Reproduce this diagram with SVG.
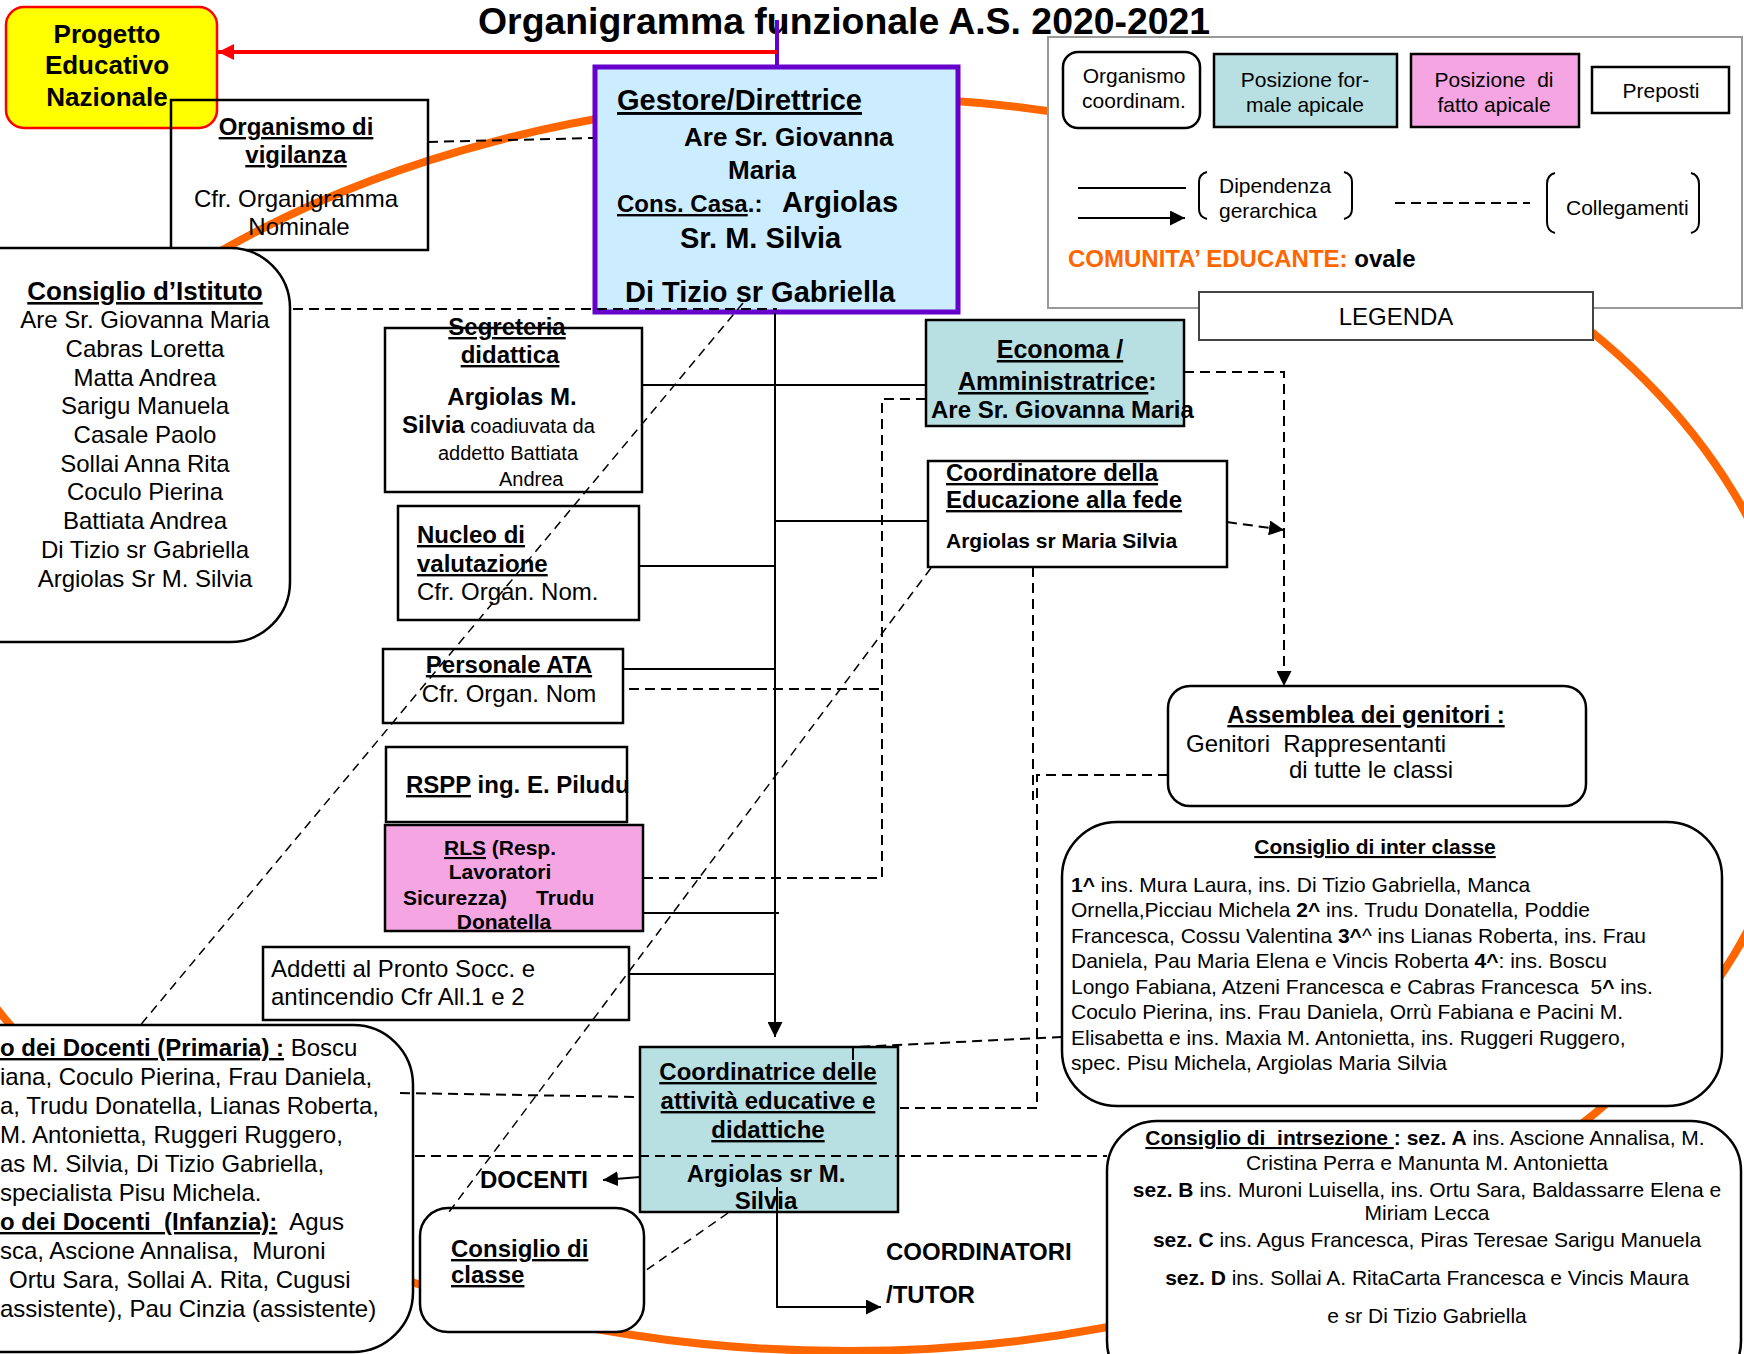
<svg xmlns="http://www.w3.org/2000/svg" width="1744" height="1354" viewBox="0 0 1744 1354" xml:space="preserve">
<defs>
<style>
text{font-family:"Liberation Sans",Arial,sans-serif;fill:#000;white-space:pre}
.b{font-weight:bold}
.u{text-decoration:underline}
.box{fill:#fff;stroke:#000;stroke-width:2.5}
.ln{stroke:#000;stroke-width:2;fill:none}
.dl{stroke:#000;stroke-width:2;fill:none;stroke-dasharray:10 6}
.dg{stroke:#000;stroke-width:1.5;fill:none;stroke-dasharray:9 6}
.teal{fill:#B8DFE1;stroke:#000;stroke-width:2.5}
.pink{fill:#F5A6E2;stroke:#000;stroke-width:2.5}
.lg{font-size:21px}
</style>
<marker id="ah" viewBox="0 0 10 10" refX="10" refY="5" markerWidth="15" markerHeight="15" markerUnits="userSpaceOnUse" orient="auto"><path d="M0,0L10,5L0,10z" fill="#000"/></marker>
<marker id="ahr" viewBox="0 0 10 10" refX="10" refY="5" markerWidth="16" markerHeight="16" markerUnits="userSpaceOnUse" orient="auto"><path d="M0,0L10,5L0,10z" fill="#FF0000"/></marker>
</defs>
<rect x="0" y="0" width="1744" height="1354" fill="#fff"/>
<ellipse id="comunita-educante-oval" cx="847" cy="724" rx="954" ry="627" fill="none" stroke="#FF6600" stroke-width="8"/>
<text x="478" y="34" font-size="37.4" class="b">Organigramma funzionale A.S. 2020-2021</text>

<g id="progetto-educativo">
<rect x="6" y="7" width="211" height="121" rx="18" fill="#FFFF00" stroke="#FF0000" stroke-width="2.5"/>
<text x="107" y="43" font-size="26" class="b" text-anchor="middle">Progetto</text>
<text x="107" y="74" font-size="26" class="b" text-anchor="middle">Educativo</text>
<text x="107" y="106" font-size="26" class="b" text-anchor="middle">Nazionale</text>
</g>

<g id="organismo-vigilanza">
<rect x="171" y="100" width="257" height="150" fill="none" stroke="#000" stroke-width="2.5"/>
<text x="296" y="135" font-size="24" class="b u" text-anchor="middle">Organismo di</text>
<text x="296" y="163" font-size="24" class="b u" text-anchor="middle">vigilanza</text>
<text x="296" y="207" font-size="24" text-anchor="middle">Cfr. Organigramma</text>
<text x="299" y="235" font-size="24" text-anchor="middle">Nominale</text>
</g>

<g id="gestore">
<rect x="595" y="67" width="363" height="245" fill="#CCECFF" stroke="#6600CC" stroke-width="5"/>
<text x="617" y="110" font-size="29" class="b u">Gestore/Direttrice</text>
<text x="684" y="146" font-size="26" class="b">Are Sr. Giovanna</text>
<text x="728" y="179" font-size="26" class="b">Maria</text>
<text x="617" y="212" class="b"><tspan font-size="24" class="u">Cons. Casa</tspan><tspan font-size="24">.:</tspan></text>
<text x="782" y="212" font-size="29" class="b">Argiolas</text>
<text x="680" y="248" font-size="29" class="b">Sr. M. Silvia</text>
<text x="625" y="302" font-size="29" class="b">Di Tizio sr Gabriella</text>
</g>

<g id="legenda">
<rect x="1048" y="37" width="694" height="271" fill="#fff" stroke="#999" stroke-width="2"/>
<rect x="1063" y="52" width="137" height="76" rx="15" class="box"/>
<text x="1134" y="83" class="lg" text-anchor="middle">Organismo</text>
<text x="1134" y="108" class="lg" text-anchor="middle">coordinam.</text>
<rect x="1214" y="54" width="183" height="73" class="teal"/>
<text x="1305" y="87" class="lg" text-anchor="middle">Posizione for-</text>
<text x="1305" y="112" class="lg" text-anchor="middle">male apicale</text>
<rect x="1411" y="54" width="168" height="73" class="pink"/>
<text x="1494" y="87" class="lg" text-anchor="middle">Posizione  di</text>
<text x="1494" y="112" class="lg" text-anchor="middle">fatto apicale</text>
<rect x="1592" y="67" width="137" height="46" class="box"/>
<text x="1661" y="98" class="lg" text-anchor="middle">Preposti</text>
<line x1="1078" y1="188" x2="1186" y2="188" class="ln"/>
<line x1="1078" y1="218" x2="1185" y2="218" class="ln" marker-end="url(#ah)"/>
<path d="M1207,172Q1199,174 1199,182L1199,209Q1199,217 1207,219" class="ln"/>
<path d="M1344,172Q1352,174 1352,182L1352,209Q1352,217 1344,219" class="ln"/>
<text x="1219" y="193" class="lg">Dipendenza</text>
<text x="1219" y="218" class="lg">gerarchica</text>
<line x1="1395" y1="203" x2="1530" y2="203" class="dl"/>
<path d="M1555,173Q1547,175 1547,184L1547,222Q1547,231 1555,233" class="ln"/>
<path d="M1691,173Q1699,175 1699,184L1699,222Q1699,231 1691,233" class="ln"/>
<text x="1566" y="215" class="lg">Collegamenti</text>
<text x="1068" y="267" font-size="24" class="b"><tspan fill="#FF6600">COMUNITA’ EDUCANTE:</tspan> ovale</text>
<rect x="1199" y="292" width="394" height="48" fill="#fff" stroke="#444" stroke-width="2"/>
<text x="1396" y="325" font-size="24" text-anchor="middle">LEGENDA</text>
</g>

<g id="consiglio-istituto">
<rect x="-60" y="248" width="350" height="394" rx="60" class="box"/>
<text x="145" y="300" font-size="26" class="b u" text-anchor="middle">Consiglio d’Istituto</text>
<text x="145" y="328" font-size="24" text-anchor="middle">Are Sr. Giovanna Maria</text>
<text x="145" y="357" font-size="24" text-anchor="middle">Cabras Loretta</text>
<text x="145" y="386" font-size="24" text-anchor="middle">Matta Andrea</text>
<text x="145" y="414" font-size="24" text-anchor="middle">Sarigu Manuela</text>
<text x="145" y="443" font-size="24" text-anchor="middle">Casale Paolo</text>
<text x="145" y="472" font-size="24" text-anchor="middle">Sollai Anna Rita</text>
<text x="145" y="500" font-size="24" text-anchor="middle">Coculo Pierina</text>
<text x="145" y="529" font-size="24" text-anchor="middle">Battiata Andrea</text>
<text x="145" y="558" font-size="24" text-anchor="middle">Di Tizio sr Gabriella</text>
<text x="145" y="587" font-size="24" text-anchor="middle">Argiolas Sr M. Silvia</text>
</g>

<g id="segreteria-didattica">
<rect x="385" y="328" width="257" height="164" class="box"/>
<text x="507" y="335" font-size="24" class="b u" text-anchor="middle">Segreteria</text>
<text x="510" y="363" font-size="24" class="b u" text-anchor="middle">didattica</text>
<text x="512" y="405" font-size="24" class="b" text-anchor="middle">Argiolas M.</text>
<text x="402" y="433"><tspan font-size="24" class="b">Silvia</tspan><tspan font-size="20"> coadiuvata da</tspan></text>
<text x="508" y="460" font-size="20" text-anchor="middle">addetto Battiata</text>
<text x="499" y="486" font-size="20">Andrea</text>
</g>

<g id="nucleo-valutazione">
<rect x="398" y="506" width="241" height="114" class="box"/>
<text x="417" y="543" font-size="24" class="b u">Nucleo di</text>
<text x="417" y="572" font-size="24" class="b u">valutazione</text>
<text x="417" y="600" font-size="24">Cfr. Organ. Nom.</text>
</g>

<g id="personale-ata">
<rect x="383" y="649" width="240" height="74" class="box"/>
<text x="509" y="673" font-size="24" class="b u" text-anchor="middle">Personale ATA</text>
<text x="509" y="702" font-size="24" text-anchor="middle">Cfr. Organ. Nom</text>
</g>

<g id="rspp">
<rect x="386" y="747" width="241" height="75" class="box"/>
<text x="406" y="793" font-size="24" class="b"><tspan class="u">RSPP</tspan> ing. E. Piludu</text>
</g>

<g id="rls">
<rect x="385" y="825" width="258" height="106" class="pink"/>
<text x="500" y="855" font-size="21" class="b" text-anchor="middle"><tspan class="u">RLS</tspan> (Resp.</text>
<text x="500" y="879" font-size="21" class="b" text-anchor="middle">Lavoratori</text>
<text x="403" y="905" font-size="21" class="b">Sicurezza)     Trudu</text>
<text x="504" y="929" font-size="21" class="b" text-anchor="middle">Donatella</text>
</g>

<g id="addetti-pronto-soccorso">
<rect x="263" y="947" width="366" height="73" class="box"/>
<text x="271" y="977" font-size="24">Addetti al Pronto Socc. e</text>
<text x="271" y="1005" font-size="24">antincendio Cfr All.1 e 2</text>
</g>

<g id="economa">
<rect x="926" y="320" width="258" height="106" class="teal"/>
<text x="1060" y="358" font-size="25" class="b u" text-anchor="middle">Economa /</text>
<text x="958" y="390" font-size="25" class="b"><tspan class="u">Amministratrice</tspan>:</text>
<text x="931" y="418" font-size="24" class="b">Are Sr. Giovanna Maria</text>
</g>

<g id="coordinatore-fede">
<rect x="928" y="461" width="299" height="106" class="box"/>
<text x="946" y="481" font-size="24" class="b u">Coordinatore della</text>
<text x="946" y="508" font-size="24" class="b u">Educazione alla fede</text>
<text x="946" y="548" font-size="21" class="b">Argiolas sr Maria Silvia</text>
</g>

<g id="assemblea-genitori">
<rect x="1168" y="686" width="418" height="120" rx="22" class="box"/>
<text x="1366" y="723" font-size="24" class="b u" text-anchor="middle">Assemblea dei genitori :</text>
<text x="1186" y="752" font-size="24">Genitori  Rappresentanti</text>
<text x="1289" y="778" font-size="24">di tutte le classi</text>
</g>

<g id="consiglio-interclasse">
<rect x="1062" y="822" width="660" height="284" rx="55" class="box"/>
<text x="1375" y="854" font-size="21" class="b u" text-anchor="middle">Consiglio di inter classe</text>
<text x="1071" y="892" font-size="21"><tspan class="b">1^</tspan> ins. Mura Laura, ins. Di Tizio Gabriella, Manca</text>
<text x="1071" y="917" font-size="21">Ornella,Picciau Michela <tspan class="b">2^</tspan> ins. Trudu Donatella, Poddie</text>
<text x="1071" y="943" font-size="21">Francesca, Cossu Valentina <tspan class="b">3^</tspan>^ ins Lianas Roberta, ins. Frau</text>
<text x="1071" y="968" font-size="21">Daniela, Pau Maria Elena e Vincis Roberta <tspan class="b">4^</tspan>: ins. Boscu</text>
<text x="1071" y="994" font-size="21">Longo Fabiana, Atzeni Francesca e Cabras Francesca  5<tspan class="b">^</tspan> ins.</text>
<text x="1071" y="1019" font-size="21">Coculo Pierina, ins. Frau Daniela, Orrù Fabiana e Pacini M.</text>
<text x="1071" y="1045" font-size="21">Elisabetta e ins. Maxia M. Antonietta, ins. Ruggeri Ruggero,</text>
<text x="1071" y="1070" font-size="21">spec. Pisu Michela, Argiolas Maria Silvia</text>
</g>

<g id="coordinatrice-attivita">
<rect x="640" y="1047" width="258" height="165" class="teal"/>
<text x="768" y="1080" font-size="24" class="b u" text-anchor="middle">Coordinatrice delle</text>
<text x="768" y="1109" font-size="24" class="b u" text-anchor="middle">attività educative e</text>
<text x="768" y="1138" font-size="24" class="b u" text-anchor="middle">didattiche</text>
<text x="766" y="1182" font-size="24" class="b" text-anchor="middle">Argiolas sr M.</text>
<text x="766" y="1209" font-size="24" class="b" text-anchor="middle">Silvia</text>
</g>

<g id="consiglio-docenti">
<rect x="-60" y="1025" width="473" height="327" rx="60" class="box"/>
<text x="0" y="1056" font-size="24"><tspan class="b u">o dei Docenti (Primaria) :</tspan> Boscu</text>
<text x="0" y="1085" font-size="24">iana, Coculo Pierina, Frau Daniela,</text>
<text x="0" y="1114" font-size="24">a, Trudu Donatella, Lianas Roberta,</text>
<text x="0" y="1143" font-size="24">M. Antonietta, Ruggeri Ruggero,</text>
<text x="0" y="1172" font-size="24">as M. Silvia, Di Tizio Gabriella,</text>
<text x="0" y="1201" font-size="24">specialista Pisu Michela.</text>
<text x="0" y="1230" font-size="24"><tspan class="b u">o dei Docenti  (Infanzia):</tspan>  Agus</text>
<text x="0" y="1259" font-size="24">sca, Ascione Annalisa,  Muroni</text>
<text x="9" y="1288" font-size="24">Ortu Sara, Sollai A. Rita, Cugusi</text>
<text x="0" y="1317" font-size="24">assistente), Pau Cinzia (assistente)</text>
</g>

<g id="consiglio-classe">
<rect x="420" y="1208" width="224" height="124" rx="28" class="box"/>
<text x="451" y="1257" font-size="24" class="b u">Consiglio di</text>
<text x="451" y="1283" font-size="24" class="b u">classe</text>
</g>

<g id="consiglio-intersezione">
<rect x="1107" y="1121" width="634" height="270" rx="50" class="box"/>
<text x="1425" y="1145" font-size="21" text-anchor="middle"><tspan class="b u">Consiglio di  intrsezione </tspan><tspan class="b">: sez. A</tspan> ins. Ascione Annalisa, M.</text>
<text x="1427" y="1170" font-size="21" text-anchor="middle">Cristina Perra e Manunta M. Antonietta</text>
<text x="1427" y="1197" font-size="21" text-anchor="middle"><tspan class="b">sez. B</tspan> ins. Muroni Luisella, ins. Ortu Sara, Baldassarre Elena e</text>
<text x="1427" y="1220" font-size="21" text-anchor="middle">Miriam Lecca</text>
<text x="1427" y="1247" font-size="21" text-anchor="middle"><tspan class="b">sez. C</tspan> ins. Agus Francesca, Piras Teresae Sarigu Manuela</text>
<text x="1427" y="1285" font-size="21" text-anchor="middle"><tspan class="b">sez. D</tspan> ins. Sollai A. RitaCarta Francesca e Vincis Maura</text>
<text x="1427" y="1323" font-size="21" text-anchor="middle">e sr Di Tizio Gabriella</text>
</g>

<g id="docenti-label">
<text x="480" y="1188" font-size="24" class="b">DOCENTI</text>
</g>
<g id="coordinatori-tutor-label">
<text x="886" y="1260" font-size="24" class="b">COORDINATORI</text>
<text x="886" y="1303" font-size="24" class="b">/TUTOR</text>
</g>

<g id="connectors">
<line x1="777" y1="20" x2="777" y2="66" stroke="#6600CC" stroke-width="4"/>
<line x1="777" y1="52" x2="218" y2="52" stroke="#FF0000" stroke-width="4" marker-end="url(#ahr)"/>
<line x1="775" y1="313" x2="775" y2="1037" class="ln" marker-end="url(#ah)"/>
<line x1="642" y1="385" x2="926" y2="385" class="ln"/>
<line x1="639" y1="566" x2="776" y2="566" class="ln"/>
<line x1="775" y1="521" x2="928" y2="521" class="ln"/>
<line x1="623" y1="669" x2="775" y2="669" class="ln"/>
<line x1="643" y1="913" x2="779" y2="913" class="ln"/>
<line x1="629" y1="974" x2="776" y2="974" class="ln"/>
<line x1="640" y1="1177" x2="603" y2="1180" class="ln" marker-end="url(#ah)"/>
<polyline points="777,1187 777,1307 881,1307" class="ln" marker-end="url(#ah)"/>
<line x1="853" y1="1047" x2="853" y2="1060" class="ln"/>
<line x1="428" y1="142" x2="593" y2="138" class="dl"/>
<line x1="293" y1="309" x2="777" y2="309" class="dl"/>
<polyline points="926,399 882,399 882,878" class="dl"/>
<line x1="629" y1="689" x2="882" y2="689" class="dl"/>
<line x1="643" y1="878" x2="882" y2="878" class="dl"/>
<polyline points="1184,372 1284,372 1284,686" class="dl" marker-end="url(#ah)"/>
<line x1="1227" y1="522" x2="1284" y2="530" class="dl" marker-end="url(#ah)"/>
<line x1="1033" y1="567" x2="1033" y2="800" class="dl"/>
<polyline points="1168,775 1037,775 1037,1108 900,1108" class="dl"/>
<line x1="1062" y1="1037" x2="855" y2="1047" class="dl"/>
<line x1="400" y1="1093" x2="640" y2="1097" class="dl"/>
<line x1="415" y1="1156" x2="1107" y2="1156" class="dl"/>
<line x1="743" y1="303" x2="138" y2="1028" class="dg"/>
<line x1="931" y1="568" x2="449" y2="1212" class="dg"/>
<line x1="728" y1="1213" x2="645" y2="1271" class="dg"/>
</g>
</svg>
